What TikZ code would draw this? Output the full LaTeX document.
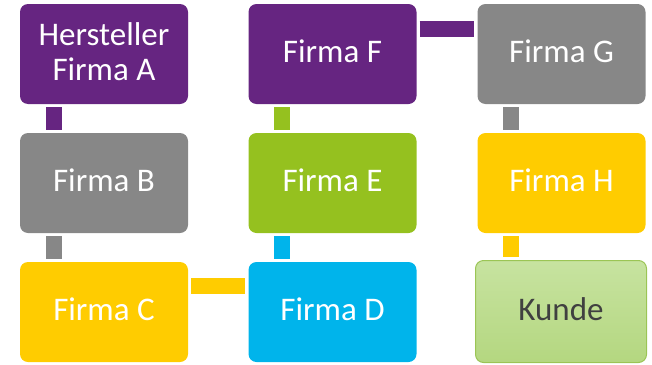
\documentclass[tikz,border=0pt]{standalone}
\usepackage{fontspec}
\setmainfont{Carlito}
\definecolor{fpurple}{HTML}{662581}
\definecolor{fgray}{HTML}{878787}
\definecolor{fyellow}{HTML}{FFCC00}
\definecolor{fgreen}{HTML}{95C11F}
\definecolor{fcyan}{HTML}{00B4EB}
\definecolor{kborder}{HTML}{9BC555}
\begin{document}
\begin{tikzpicture}
  [x=1pt,y=-1pt,every node/.style={rounded corners=8pt,minimum width=168pt,minimum height=100pt,inner sep=0pt,text depth=5pt,text=white,align=center,font=\fontsize{33}{35}\selectfont},
   link/.style={line width=16pt,shorten >=3pt,shorten <=3pt}]
  \useasboundingbox (0,0) rectangle (652,364);
  \node (a)[fill=fpurple] at (104,54) {Hersteller\\Firma A};
  \node (b)[fill=fgray] at (104,183) {Firma B};
  \node (c)[fill=fyellow] at (104,312) {Firma C};
  \node (f)[fill=fpurple] at (332.5,54) {Firma F};
  \node (e)[fill=fgreen] at (332.5,183) {Firma E};
  \node (d)[fill=fcyan] at (332.5,312) {Firma D};
  \node (g)[fill=fgray] at (561.5,54) {Firma G};
  \node (h)[fill=fyellow] at (561.5,183) {Firma H};
  \node (k)[draw=kborder,line width=1pt,
    top color={rgb,255:red,199;green,227;blue,160},bottom color={rgb,255:red,180;green,215;blue,128},
    text={rgb,255:red,64;green,64;blue,64},minimum width=171pt,minimum height=102pt] at (561,311.5) {Kunde};

  \foreach \from/\to/\col in {a/b/fpurple,b/c/fgray,f/e/fgreen,e/d/fcyan,g/h/fgray}
    \draw[link,\col] ([xshift=34pt]\from.south west) -- ([xshift=34pt]\to.north west);
  \draw[link,fyellow] ([xshift=34pt]h.south west) -- ([xshift=34pt]h.south west |- k.north);
  \draw[link,fyellow] ([yshift=-24pt]c.north east) -- ([yshift=-24pt]d.north west);
  \draw[link,fpurple] ([yshift=-25pt]f.north east) -- ([yshift=-25pt]g.north west);
\end{tikzpicture}
\end{document}
